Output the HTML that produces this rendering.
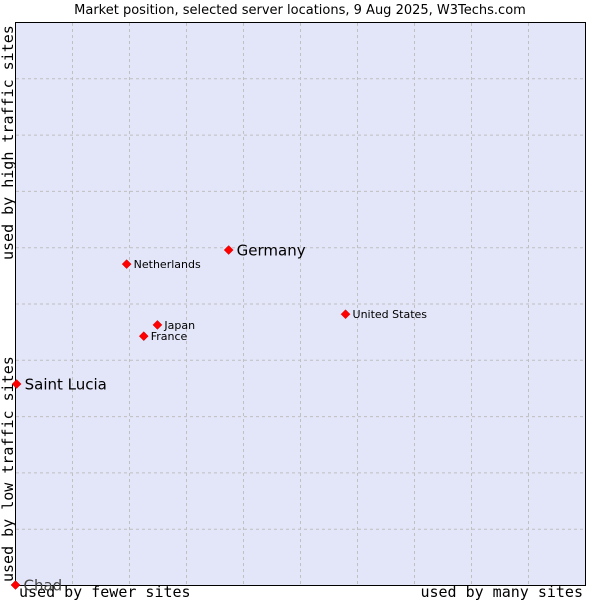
<!DOCTYPE html>
<html><head><meta charset="utf-8"><style>
body{margin:0;background:#fff;}
svg{display:block;font-family:"DejaVu Sans","Liberation Sans",sans-serif;}
</style></head><body>
<svg id="chart" width="600" height="600">
<text x="300" y="14" text-anchor="middle" font-size="13" fill="#000">Market position, selected server locations, 9 Aug 2025, W3Techs.com</text>
<rect x="15.5" y="22.5" width="570" height="563" fill="#e3e5f8" stroke="#000"/>
<g id="grid"></g>
<text x="19" y="597" font-family="DejaVu Sans Mono,monospace" font-size="15">used by fewer sites</text>
<text x="583" y="597" text-anchor="end" font-family="DejaVu Sans Mono,monospace" font-size="15">used by many sites</text>
<text transform="translate(13,582) rotate(-90)" font-family="DejaVu Sans Mono,monospace" font-size="15">used by low traffic sites</text>
<text transform="translate(13,260) rotate(-90)" font-family="DejaVu Sans Mono,monospace" font-size="15">used by high traffic sites</text>
<g id="points"></g>
</svg>
<script>
const names=["Chad","Saint Lucia","Germany","Netherlands","Japan","France","United States"];
const xVals=[0,0.2,37.4,19.5,24.9,22.5,57.9];
const yVals=[0,35.7,59.5,57,46.2,44.2,48.1];
const bigLabel=[true,true,true,false,false,false,false];
const NS="http://www.w3.org/2000/svg";
const X=v=>15.5+v*5.7, Y=v=>585-v*5.63;
const g=document.getElementById('grid');
for(let i=1;i<10;i++){
 const v=document.createElementNS(NS,'line');
 v.setAttribute('x1',X(i*10));v.setAttribute('x2',X(i*10));v.setAttribute('y1',23);v.setAttribute('y2',585);
 v.setAttribute('stroke','#c0c0c0');v.setAttribute('stroke-dasharray','3,3');
 
 
 g.appendChild(v);
 const h=document.createElementNS(NS,'line');
 h.setAttribute('y1',Y(i*10)+0.5);h.setAttribute('y2',Y(i*10)+0.5);h.setAttribute('x1',16);h.setAttribute('x2',585);
 h.setAttribute('stroke','#c0c0c0');h.setAttribute('stroke-dasharray','3,3');
 
 
 g.appendChild(h);
}
const p=document.getElementById('points');
names.forEach((n,i)=>{
 const x=X(xVals[i]),y=Y(yVals[i]);
 const d=document.createElementNS(NS,'path');
 d.setAttribute('d',`M${x},${y-4.5}L${x+4.5},${y}L${x},${y+4.5}L${x-4.5},${y}Z`);
 d.setAttribute('fill','#f00');d.setAttribute('stroke','#c00');d.setAttribute('stroke-width','0.5');
 
 
 p.appendChild(d);
 const t=document.createElementNS(NS,'text');
 t.setAttribute('x',x+(bigLabel[i]?8:7));
 t.setAttribute('y',y+(bigLabel[i]?5.5:4));
 t.setAttribute('font-size',bigLabel[i]?15:11);
 t.setAttribute('fill',n==="Chad"?'#444':'#000');
 t.textContent=n;
 
 
 p.appendChild(t);
});
</script>
</body></html>
